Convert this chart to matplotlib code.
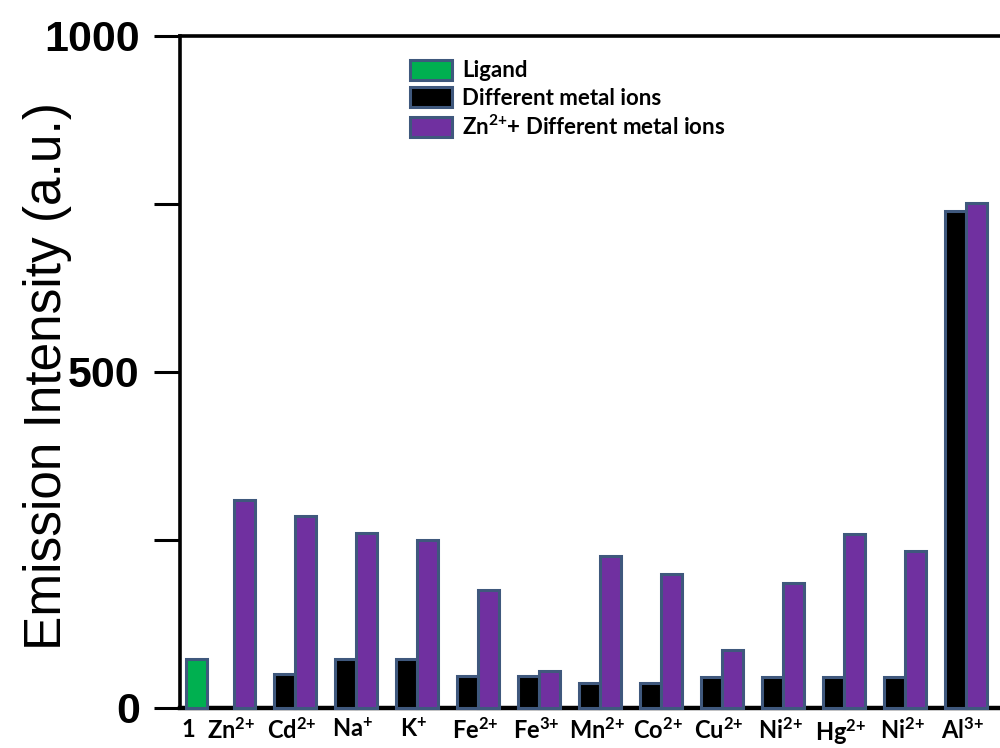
import numpy as np
import matplotlib
matplotlib.use("Agg")
import matplotlib.pyplot as plt
from matplotlib.patches import Patch

# emission intensities read per sample
labels = ["1", "Zn$^{2{+}}$", "Cd$^{2{+}}$", "Na$^{{+}}$", "K$^{{+}}$", "Fe$^{2{+}}$", "Fe$^{3{+}}$",
          "Mn$^{2{+}}$", "Co$^{2{+}}$", "Cu$^{2{+}}$", "Ni$^{2{+}}$", "Hg$^{2{+}}$", "Ni$^{2{+}}$",
          "Al$^{3{+}}$"]
ligand = [73]
metal_only = [np.nan, np.nan, 51, 73, 73, 47, 47, 37, 37, 46, 46, 46, 46, 740]
zn_plus_metal = [np.nan, 310, 285, 261, 250, 176, 55, 226, 199, 86, 186, 259, 234, 752]
legend_labels = ["Ligand", "Different metal ions", "Zn$^{2{+}}$+ Different metal ions"]

GREEN = "#00b050"
PURPLE = "#7030a0"
BLACK = "#000000"
EDGE = "#3f587d"

plt.rcParams["mathtext.fontset"] = "custom"
plt.rcParams["mathtext.rm"] = "Lato:bold"
plt.rcParams["mathtext.it"] = "Lato:bold"
plt.rcParams["mathtext.bf"] = "Lato:bold"
plt.rcParams["mathtext.default"] = "rm"

fig = plt.figure(figsize=(10, 7.48), dpi=100)
ax = fig.add_axes([0.18, 0.0535, 0.83, 0.8984])

pos = np.arange(len(labels))
width = 0.34
bar_kw = dict(width=width, edgecolor=EDGE, linewidth=2.2, zorder=3, clip_on=False)

metal_only = np.array(metal_only, dtype=float)
zn_plus_metal = np.array(zn_plus_metal, dtype=float)
m = ~np.isnan(metal_only)
ax.bar(pos[m] - width / 2, metal_only[m], color=BLACK, **bar_kw)
z = ~np.isnan(zn_plus_metal)
ax.bar(pos[z] + width / 2, zn_plus_metal[z], color=PURPLE, **bar_kw)
ax.bar([0.39], ligand, color=GREEN, **bar_kw)

ax.set_xlim(0.115, 0.115 + 830 / 61)
ax.set_ylim(0, 1000)

# y axis: ticks every 250, numbers only at 0/500/1000
ax.set_yticks([0, 250, 500, 750, 1000])
ax.set_yticklabels(["0", "", "500", "", "1000"], fontfamily="Liberation Sans",
                   fontweight="bold", fontsize=31)
ax.tick_params(axis="y", direction="out", length=19, width=2.2, pad=10, color="black")

tick_pos = pos - 0.05
tick_pos[0] = 0.25
ax.set_xticks(tick_pos)
ax.set_xticklabels(labels, fontfamily="Lato", fontweight="bold", fontsize=17)
ax.tick_params(axis="x", length=0, pad=7)

for side in ["left", "bottom", "top"]:
    ax.spines[side].set_linewidth(2.6)
    ax.spines[side].set_color("black")
ax.spines["bottom"].set_linewidth(3.2)
ax.spines["right"].set_visible(False)

fig.text(0.048, 0.497, "Emission Intensity (a.u.)", rotation=90, ha="center", va="center",
         fontfamily="Liberation Sans", fontsize=37)

handles = [Patch(facecolor=GREEN, edgecolor=EDGE, linewidth=2.2),
           Patch(facecolor=BLACK, edgecolor=EDGE, linewidth=2.2),
           Patch(facecolor=PURPLE, edgecolor=EDGE, linewidth=2.2)]
leg = fig.legend(handles, legend_labels,
                 loc="upper left", bbox_to_anchor=(0.41, 0.92), frameon=False,
                 prop={"family": "Lato", "weight": "bold", "size": 16},
                 handlelength=1.9, handleheight=1.0, labelspacing=0.26,
                 handletextpad=0.45, borderpad=0, borderaxespad=0)

fig.savefig("out.png", dpi=100, facecolor="white")
